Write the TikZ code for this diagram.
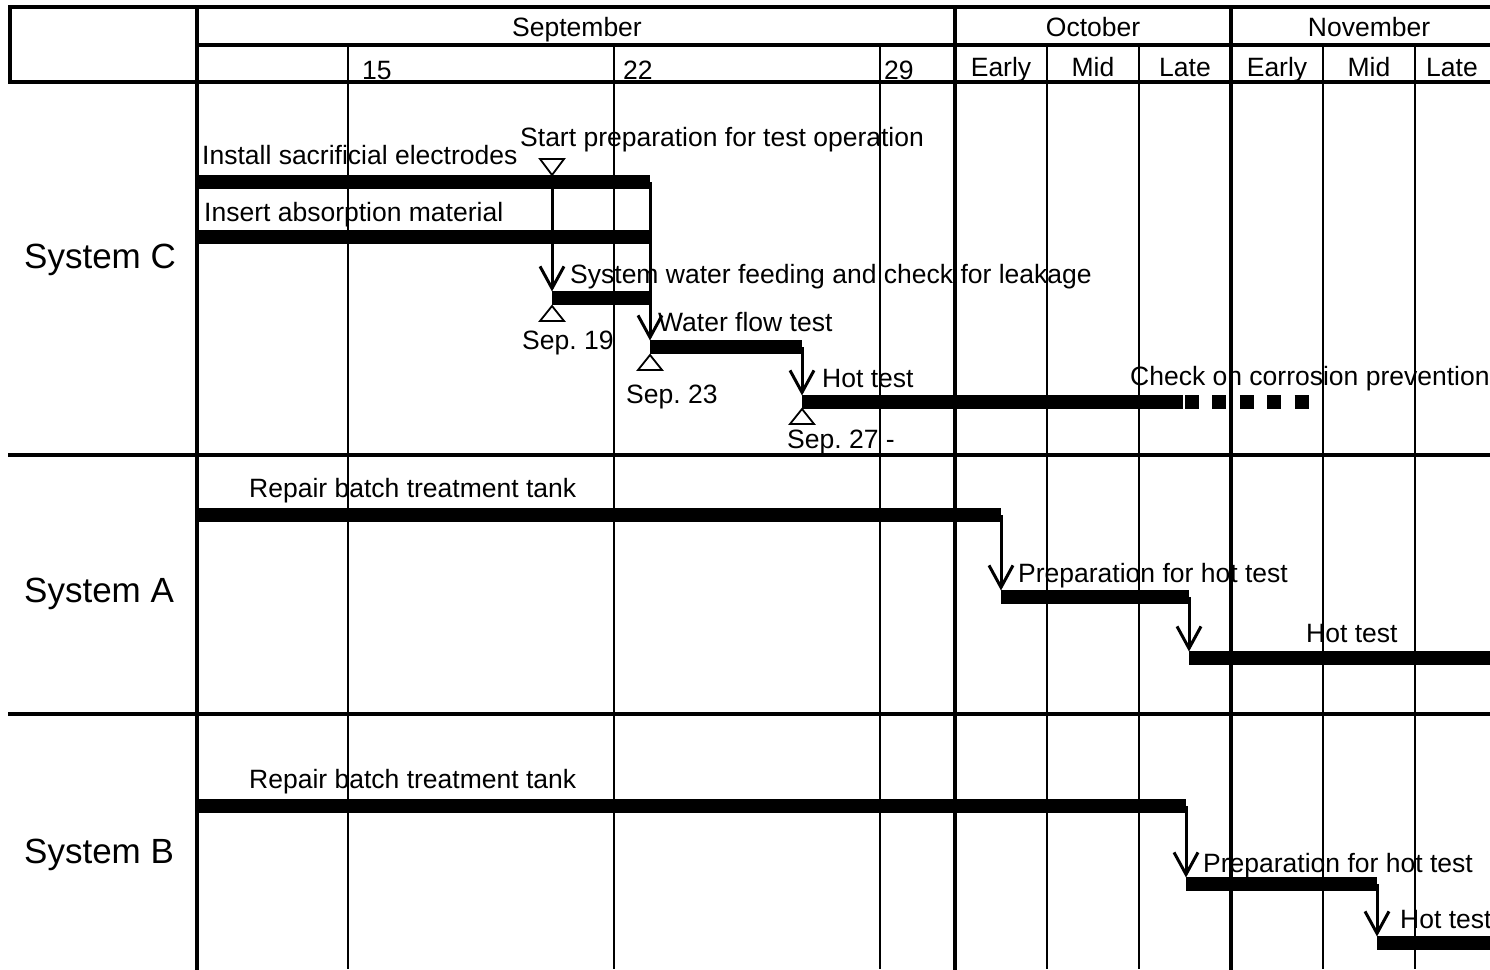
\documentclass[tikz,border=0pt]{standalone}
\usepackage{fontspec}
\setmainfont{Liberation Sans}
\usetikzlibrary{arrows.meta}
\definecolor{noir}{gray}{0}
\frenchspacing

\begin{document}
\begin{tikzpicture}[x=1pt,y=-1pt,
  epais/.style={line width=4pt,line cap=rect,draw=noir},
  fin/.style={line width=1.4pt,draw=noir},
  barre/.style={line width=13.5pt,draw=noir},
  pointille/.style={line width=13.5pt,draw=noir,dash pattern=on 14pt off 13.4pt},
  fleche/.style={line width=3pt,draw=noir,-{Straight Barb[length=22pt,width=24pt]},shorten >=6.5pt},
  repere/.style={line width=1.8pt,draw=noir,fill=white},
  txt/.style={inner sep=0pt,anchor=base west,font=\fontsize{26.5}{30}\selectfont},
  systeme/.style={inner sep=0pt,anchor=base west,font=\fontsize{35}{40}\selectfont}]
  \useasboundingbox (0,0) rectangle (1490,969);

  % Grille.
  \draw[epais] (10,82) -- (10,7) -- (1490,7);
  \draw[epais] (197,45) -- (1490,45);
  \draw[epais] (10,82) -- (1490,82);
  \draw[epais] (10,455) -- (1490,455);
  \draw[epais] (10,714) -- (1490,714);
  \foreach \x in {197,955,1231}
    \draw[epais] (\x,7) -- (\x,969);
  \foreach \x in {348,614,880,1047,1139,1323,1415}
    \draw[fin] (\x,45) -- (\x,969);

  % Mois.
  \node[txt,anchor=base] (sept) at (577,36) {September};
  \node[txt,anchor=base] (oct) at (1093,36) {October};
  \node[txt,anchor=base] (nov) at (1369,36) {November};
  % Jours et decades.
  \node[txt] (j15) at (362,79) {15};
  \node[txt] (j22) at (623,79) {22};
  \node[txt] (j29) at (884,79) {29};
  \foreach \x/\t [count=\i] in {1001/Early,1093/Mid,1185/Late,1277/Early,1369/Mid,1452/Late}
    \node[txt,anchor=base] (dec\i) at (\x,76) {\t};

  % Systeme C.
  \node[systeme] (sysC) at (24,268) {System C};
  \draw[barre] (197,182) coordinate (elecD) -- (650,182) coordinate (elecF);
  \draw[barre] (197,237) coordinate (absD) -- (650,237) coordinate (absF);
  \draw[barre] (552,298) coordinate (eauD) -- (650,298) coordinate (eauF);
  \draw[barre] (650,347) coordinate (debitD) -- (802,347) coordinate (debitF);
  \draw[barre] (802,402) coordinate (chaudD) -- (1183,402) coordinate (chaudF);
  \draw[pointille] (1185,402) coordinate (corrD) -- (1310,402) coordinate (corrF);
  \coordinate (depart) at (552,175);
  \draw[fleche] (depart) -- (eauD);
  \draw[fleche] (elecF) -- (debitD);
  \draw[fleche] (debitF) -- (chaudD);
  \draw[repere] (depart) -- ++(-12,-16) -- ++(24,0) -- cycle;
  \draw[repere] (552,306) coordinate (t19) -- ++(-12,15) -- ++(24,0) -- cycle;
  \draw[repere] (650,355) coordinate (t23) -- ++(-12,15) -- ++(24,0) -- cycle;
  \draw[repere] (802,409) coordinate (t27) -- ++(-12,15) -- ++(24,0) -- cycle;
  \node[txt] (elec) at (202,164) {Install sacrificial electrodes};
  \node[txt] (prep) at (520,146) {Start preparation for test operation};
  \node[txt] (abs) at (204,221) {Insert absorption material};
  \node[txt] (eau) at (570,283) {System water feeding and check for leakage};
  \node[txt] (s19) at (522,349) {Sep. 19};
  \node[txt] (debit) at (658,331) {Water flow test};
  \node[txt] (s23) at (626,403) {Sep. 23};
  \node[txt] (chaud) at (822,387) {Hot test};
  \node[txt] (corr) at (1130,385) {Check on corrosion prevention};
  \node[txt] (s27) at (787,448) {Sep. 27 -};

  % Systeme A.
  \node[systeme] (sysA) at (24,602) {System A};
  \draw[barre] (197,515) coordinate (repAD) -- (1001,515) coordinate (repAF);
  \draw[barre] (1001,597) coordinate (prepAD) -- (1189,597) coordinate (prepAF);
  \draw[barre] (1189,658) coordinate (chaudAD) -- (1490,658) coordinate (chaudAF);
  \draw[fleche] (repAF) -- (prepAD);
  \draw[fleche] (prepAF) -- (chaudAD);
  \node[txt] (repA) at (249,497) {Repair batch treatment tank};
  \node[txt] (prepA) at (1018,582) {Preparation for hot test};
  \node[txt] (chaudA) at (1306,642) {Hot test};

  % Systeme B.
  \node[systeme] (sysB) at (24,863) {System B};
  \draw[barre] (197,806) coordinate (repBD) -- (1186,806) coordinate (repBF);
  \draw[barre] (1186,884) coordinate (prepBD) -- (1377,884) coordinate (prepBF);
  \draw[barre] (1377,943) coordinate (chaudBD) -- (1490,943) coordinate (chaudBF);
  \draw[fleche] (repBF) -- (prepBD);
  \draw[fleche] (prepBF) -- (chaudBD);
  \node[txt] (repB) at (249,788) {Repair batch treatment tank};
  \node[txt] (prepB) at (1203,872) {Preparation for hot test};
  \node[txt] (chaudB) at (1400,928) {Hot test};
\end{tikzpicture}
\end{document}
